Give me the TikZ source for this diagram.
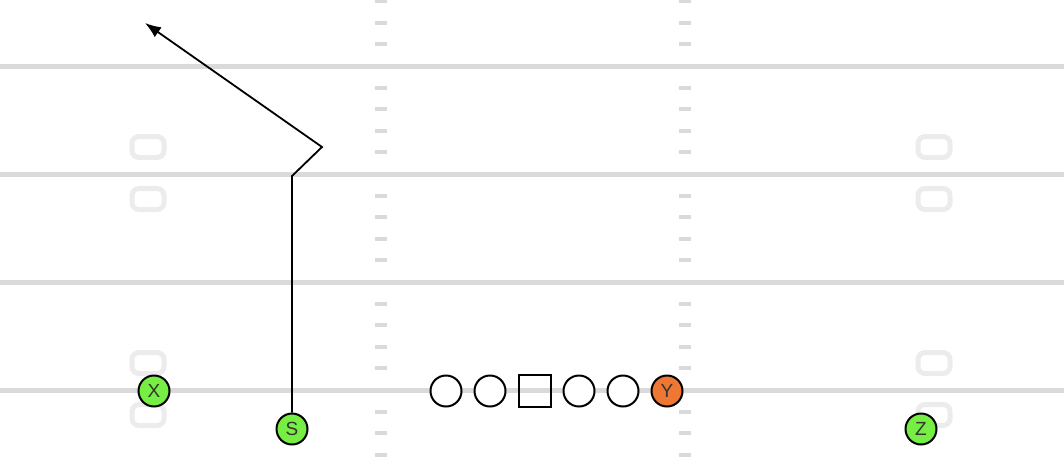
\documentclass[tikz,border=0pt]{standalone}
\usepackage{fontspec}
\setsansfont{Liberation Sans}
\usepackage{tikz}
\usepackage{xcolor}
\usetikzlibrary{positioning, arrows.meta}
\definecolor{fieldgray}{RGB}{218, 218, 218}
\definecolor{numgray}{RGB}{236, 236, 236}
\definecolor{skillgreen}{RGB}{119, 238, 68}
\definecolor{teorange}{RGB}{238, 119, 51}
\tikzset{
    yardline/.style={draw=fieldgray, line width=5pt},
    hashmark/.style={fill=fieldgray, draw=none},
    yardnum/.style={draw=numgray, line width=5pt, rounded corners=7pt},
    player/.style={circle, draw=black, line width=2pt, minimum size=31pt, inner sep=0pt, font=\sffamily\fontsize{19}{19}\selectfont, text=black!80},
    lineman/.style={player, fill=white},
    centernode/.style={player, rectangle, minimum size=32pt},
    skillnode/.style={player, fill=skillgreen},
    tenode/.style={player, fill=teorange},
    route/.style={draw=black, line width=1.8pt}
}

\begin{document}
\begin{tikzpicture}[x=1pt, y=-1pt]
                    \useasboundingbox (0,0) rectangle (1064,466);
                    % hash marks
                    \foreach \hx in {381,685}
                        \foreach \j in {-3,...,18}
                            \fill[hashmark] (\hx-6,66+21.6*\j-2) rectangle (\hx+6,66+21.6*\j+2);
                    % yard lines
                    \foreach \ly in {66,174,282,390}
                        \draw[yardline] (0,\ly) -- (1064,\ly);
                    % yard numbers
                    \foreach \nx in {148,934}
                        \foreach \ny in {147,199,363,415}
                            \draw[yardnum] (\nx-16,\ny-10.5) rectangle (\nx+16,\ny+10.5);
                    
                    \node[lineman] (lt) at (446,391) {};
                    \node[lineman] (lg) at (490,391) {};
                    \node[centernode] (c) at (535,391) {};
                    \node[lineman] (rg) at (579,391) {};
                    \node[lineman] (rt) at (623,391) {};
                    \node[tenode] (y) at (667,391) {Y};
                    \node[skillnode] (x) at (154,391) {X};
                    \node[skillnode] (s) at (292,429) {S};
                    \node[skillnode] (z) at (921,429) {Z};
                    
                    \coordinate (sstem) at (292,176);
                    \coordinate (sbreak) at (322,147);
                    \coordinate (send) at (145,23);
                    \draw[route, -{Latex[length=16pt, width=12pt]}] (s) -- (sstem) -- (sbreak) -- (send);
                \end{tikzpicture}
\end{document}
